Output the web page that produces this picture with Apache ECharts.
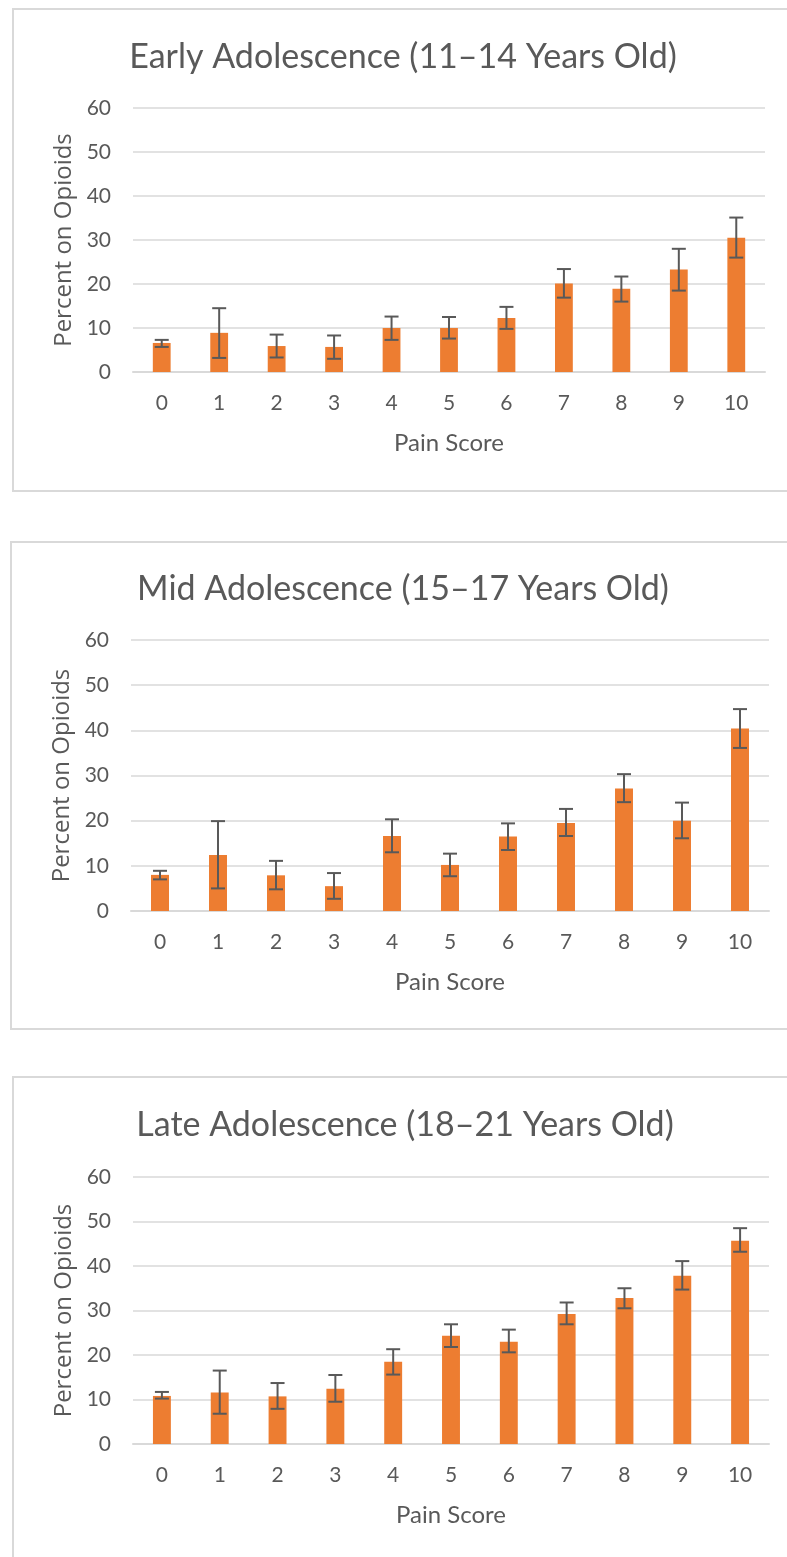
<!DOCTYPE html>
<html>
<head>
<meta charset="utf-8">
<script src="https://cdn.jsdelivr.net/npm/echarts@6/dist/echarts.min.js"></script>
<style>
html, body { margin: 0; padding: 0; background: #fff; overflow: hidden; width: 787px; height: 1557px; }
.panel { position: absolute; box-sizing: border-box; border: 2px solid #d9d9d9; background: #fff; }
.panel .chart { position: absolute; left: 0; top: 0; width: 100%; height: 100%; }
</style>
</head>
<body>
<div class="panel" id="panel_0" style="left:12px;top:8px;width:800px;height:484px;"><div class="chart" id="chart_0"></div></div>
<div class="panel" id="panel_1" style="left:10px;top:541px;width:800px;height:489px;"><div class="chart" id="chart_1"></div></div>
<div class="panel" id="panel_2" style="left:12px;top:1076px;width:800px;height:520px;"><div class="chart" id="chart_2"></div></div>
<script>
/* 疼痛评分 - 阿片类药物使用比例 */
var painScores = ['0', '1', '2', '3', '4', '5', '6', '7', '8', '9', '10'];
var yTicks = [0, 10, 20, 30, 40, 50, 60];

var chartTitles = [
	'Early Adolescence (11\u201314 Years Old)',
	'Mid Adolescence (15\u201317 Years Old)',
	'Late Adolescence (18\u201321 Years Old)'
];
var xAxisName = 'Pain Score';
var yAxisName = 'Percent on Opioids';

var earlyValues = [6.6, 8.9, 5.9, 5.7, 10.0, 10.0, 12.3, 20.1, 18.9, 23.3, 30.5];
var earlyLow = [5.7, 3.2, 3.3, 3.0, 7.3, 7.6, 9.8, 16.9, 16.0, 18.5, 26.0];
var earlyHigh = [7.3, 14.5, 8.5, 8.3, 12.6, 12.5, 14.8, 23.4, 21.7, 28.0, 35.1];

var midValues = [8.0, 12.4, 7.9, 5.5, 16.6, 10.2, 16.5, 19.5, 27.1, 20.0, 40.4];
var midLow = [7.0, 5.0, 4.8, 2.7, 13.0, 7.7, 13.5, 16.6, 24.1, 16.1, 36.1];
var midHigh = [8.9, 19.9, 11.1, 8.4, 20.3, 12.7, 19.4, 22.6, 30.3, 24.0, 44.7];

var lateValues = [10.8, 11.6, 10.7, 12.4, 18.5, 24.3, 23.0, 29.2, 32.8, 37.8, 45.7];
var lateLow = [10.2, 6.8, 7.9, 9.5, 15.6, 21.8, 20.6, 26.9, 30.5, 34.7, 43.2];
var lateHigh = [11.7, 16.5, 13.7, 15.5, 21.3, 26.9, 25.7, 31.8, 35.0, 41.1, 48.5];

// 每个面板的位置
var layouts = [
	{ titleX: 384, titleY: 45, left: 119, top: 98, width: 632, height: 264 },
	{ titleX: 386, titleY: 44, left: 119, top: 97, width: 638, height: 271 },
	{ titleX: 386, titleY: 45, left: 119, top: 99, width: 636, height: 267 }
];

var textColor = '#595959';
var fontFamily = 'Lato, "Open Sans", sans-serif';

window.onload = function(){
	loadChart(0, earlyValues, earlyLow, earlyHigh);
	loadChart(1, midValues, midLow, midHigh);
	loadChart(2, lateValues, lateLow, lateHigh);
};

/**
 * 误差线
 */
function renderErrorBar(params, api){
	var idx = api.value(0);
	var low = api.coord([idx, api.value(1)]);
	var high = api.coord([idx, api.value(2)]);
	var half = 7;
	var style = { stroke: '#595959', lineWidth: 2 };
	return {
		type: 'group',
		children: [
			{ type: 'line', shape: { x1: low[0], y1: low[1], x2: high[0], y2: high[1] }, style: style },
			{ type: 'line', shape: { x1: low[0] - half, y1: low[1], x2: low[0] + half, y2: low[1] }, style: style },
			{ type: 'line', shape: { x1: high[0] - half, y1: high[1], x2: high[0] + half, y2: high[1] }, style: style }
		]
	};
}

function loadChart(n, values, low, high){
	var chart = echarts.init(document.getElementById('chart_' + n));
	var lay = layouts[n];
	var errData = [];
	for (var i = 0; i < painScores.length; i++) {
		errData.push([i, low[i], high[i]]);
	}
	var option = {
		animation: false,
		title: {
			text: chartTitles[n],
			left: lay.titleX,
			top: lay.titleY - 21,
			textAlign: 'center',
			textStyle: { color: textColor, fontFamily: fontFamily, fontSize: 34, fontWeight: 'normal', lineHeight: 36 }
		},
		grid: { left: lay.left, top: lay.top, width: lay.width, height: lay.height },
		xAxis: {
			type: 'category',
			data: painScores,
			name: xAxisName,
			nameLocation: 'middle',
			nameGap: 59,
			nameTextStyle: { color: textColor, fontFamily: fontFamily, fontSize: 24 },
			axisTick: { show: false },
			axisLine: { lineStyle: { color: '#d9d9d9', width: 2 } },
			axisLabel: { color: textColor, fontFamily: fontFamily, fontSize: 21, margin: 21 }
		},
		yAxis: {
			type: 'value',
			min: yTicks[0],
			max: yTicks[yTicks.length - 1],
			interval: yTicks[1] - yTicks[0],
			name: yAxisName,
			nameLocation: 'middle',
			nameGap: 57,
			nameTextStyle: { color: textColor, fontFamily: '"Open Sans", sans-serif', fontSize: 24 },
			axisLine: { show: false },
			axisTick: { show: false },
			splitLine: { lineStyle: { color: '#d9d9d9', width: 1.5 } },
			axisLabel: { color: textColor, fontFamily: fontFamily, fontSize: 21, margin: 22 }
		},
		series: [
			{
				type: 'bar',
				data: values,
				barWidth: '31%',
				itemStyle: { color: '#ED7D31' }
			},
			{
				type: 'custom',
				data: errData,
				renderItem: renderErrorBar,
				encode: { x: 0, y: [1, 2] },
				z: 10
			}
		]
	};
	chart.setOption(option);
}
</script>
</body>
</html>
